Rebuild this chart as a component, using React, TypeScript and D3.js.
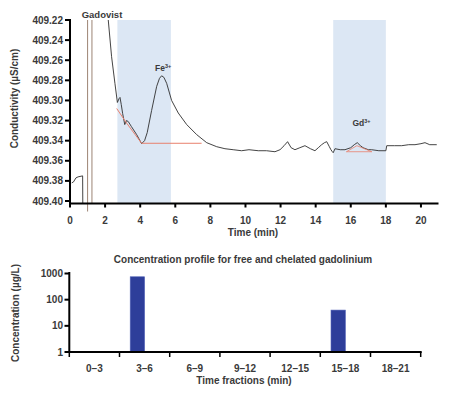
import React from 'react';
import * as d3 from 'd3';

// conductivity trace (NaN = gap where the signal leaves the plot)
const traceMinutes = [
  0.1, 0.2, 0.34, 0.46, 0.72, 0.73, NaN,
  2.15, 2.18, 2.37, 2.56, 2.7, 2.8, 2.85, 2.92, 3.0, 3.12, 3.22, 3.32, 3.5, 3.8, 4.08, 4.25, 4.4,
  4.65, 4.94, 5.1, 5.22, 5.35, 5.51, 5.79, 6.17, 6.65, 7.22, 7.79, 8.36, 8.83, 9.3, 9.78, 10.2,
  10.73, 11.2, 11.68, 11.97, 12.2, 12.4, 12.6, 12.82, 13.1, 13.39, 13.7, 13.96, 14.15, 14.34,
  14.5, 14.63, 14.78, 14.87, 14.95, 15.0, 15.1, 15.4, 15.67, 16.0, 16.2, 16.37, 16.55, 16.7,
  17.0, 17.19, 17.6, 18.0, 18.05, 18.5, 18.9, 19.3, 19.66, 20.0, 20.23, 20.5, 20.9,
];
const traceConductivity = [
  409.382, 409.381, 409.377, 409.376, 409.375, 409.405, NaN,
  409.215, 409.22, 409.2565, 409.283, 409.302, 409.298, 409.297, 409.304, 409.313, 409.324,
  409.32, 409.321, 409.326, 409.334, 409.343, 409.34, 409.332, 409.31, 409.286, 409.278,
  409.2755, 409.277, 409.283, 409.3, 409.3125, 409.324, 409.334, 409.342, 409.346, 409.348,
  409.349, 409.35, 409.349, 409.35, 409.35, 409.351, 409.349, 409.345, 409.341, 409.347,
  409.349, 409.347, 409.345, 409.348, 409.35, 409.347, 409.344, 409.342, 409.341, 409.346,
  409.349, 409.351, 409.352, 409.348, 409.349, 409.349, 409.347, 409.344, 409.342, 409.345,
  409.347, 409.349, 409.349, 409.35, 409.35, 409.345, 409.345, 409.345, 409.344, 409.344,
  409.343, 409.342, 409.344, 409.344,
];

// peak baselines (red)
const feBaselineMinutes = [2.66, 3.23, 4.08, 7.5];
const feBaselineValues = [409.308, 409.3226, 409.3426, 409.3426];
const gdBaselineMinutes = [15.75, 16.35, 17.2, 15.75];
const gdBaselineValues = [409.351, 409.345, 409.351, 409.351];

// shaded collection windows and injection marks
const windowStarts = [2.7, 15.0];
const windowEnds = [5.75, 18.0];
const injectionMinutes = [1.0, 1.25];

const yTicksTop = [409.22, 409.24, 409.26, 409.28, 409.3, 409.32, 409.34, 409.36, 409.38, 409.4];
const xTicksTop = [0, 2, 4, 6, 8, 10, 12, 14, 16, 18, 20];

// concentration per fraction
const fractions = ['0–3', '3–6', '6–9', '9–12', '12–15', '15–18', '18–21'];
const concentrations = [0, 750, 0, 0, 0, 40, 0];
const concTicks = [1, 10, 100, 1000];

const font = 'Liberation Sans, Arial, sans-serif';
const textColor = '#3a3a3a';

export default function App() {
  // top panel scales
  const x = d3.scaleLinear().domain([0, 21]).range([70, 438.5]);
  const y = d3.scaleLinear().domain([409.22, 409.4]).range([20, 201]);
  const axisY = 203.5;

  const tracePts = traceMinutes.map((t, i) => [t, traceConductivity[i]] as [number, number]);
  const line = d3
    .line<[number, number]>()
    .defined(d => !isNaN(d[0]) && !isNaN(d[1]))
    .x(d => x(d[0]))
    .y(d => y(d[1]));

  const feLine = line(feBaselineMinutes.map((t, i) => [t, feBaselineValues[i]] as [number, number]));
  const gdLine = line(gdBaselineMinutes.map((t, i) => [t, gdBaselineValues[i]] as [number, number]));

  // bottom panel scales
  const xb = d3.scaleBand<string>().domain(fractions).range([69.3, 420.7]).padding(0);
  const sub = d3
    .scaleBand<string>()
    .domain(['measured', 'other'])
    .range([0, xb.bandwidth()])
    .paddingInner(0)
    .paddingOuter(0.743);
  const yb = d3.scaleLog().domain([1, 1000]).range([352, 273.5]);
  const axisYb = 352;

  return (
    <svg width={450} height={399} style={{ position: 'absolute', left: 0, top: 0, background: '#fff' }} fontFamily={font}>
      <defs>
        <clipPath id="plotClip">
          <rect x={x(0)} y={y(409.22)} width={x(21) - x(0)} height={axisY - y(409.22)} />
        </clipPath>
      </defs>

      {/* shaded windows */}
      {windowStarts.map((s, i) => (
        <rect key={i} x={x(s)} y={y(409.22)} width={x(windowEnds[i]) - x(s)} height={axisY - y(409.22)} fill="#dce7f4" />
      ))}

      {/* injection marks */}
      {injectionMinutes.map((t, i) => (
        <line key={i} x1={x(t)} x2={x(t)} y1={y(409.22)} y2={i === 0 ? axisY + 8 : axisY} stroke="#a58f80" strokeWidth={1.1} />
      ))}

      <g clipPath="url(#plotClip)">
        <path d={line(tracePts) || ''} fill="none" stroke="#2f2f2f" strokeWidth={0.9} />
      </g>
      <path d={feLine || ''} fill="none" stroke="#e8806c" strokeWidth={1} />
      <path d={gdLine || ''} fill="none" stroke="#e8806c" strokeWidth={0.8} />

      {/* annotations */}
      <text x={102} y={17.5} textAnchor="middle" fontSize={9.5} fontWeight="bold" fill={textColor}>Gadovist</text>
      <text x={155} y={71} fontSize={8.5} fontWeight="bold" fill={textColor}>
        Fe<tspan fontSize={5.5} dy={-3}>3+</tspan>
      </text>
      <text x={352.5} y={126} fontSize={8.5} fontWeight="bold" fill={textColor}>
        Gd<tspan fontSize={5.5} dy={-3}>3+</tspan>
      </text>

      {/* top axes */}
      <line x1={70} x2={70} y1={19} y2={axisY + 1} stroke="#000" strokeWidth={2} />
      <line x1={69} x2={x(21)} y1={axisY} y2={axisY} stroke="#000" strokeWidth={2} />
      {yTicksTop.map(v => (
        <g key={v}>
          <line x1={65} x2={70} y1={y(v)} y2={y(v)} stroke="#000" strokeWidth={2} />
          <text x={63} y={y(v)} dy="0.35em" textAnchor="end" fontSize={10} fontWeight="bold" fill={textColor}>
            {d3.format('.2f')(v)}
          </text>
        </g>
      ))}
      {xTicksTop.map(t => (
        <g key={t}>
          <line x1={x(t)} x2={x(t)} y1={axisY} y2={axisY + 4} stroke="#000" strokeWidth={2} />
          <text x={x(t)} y={223.5} textAnchor="middle" fontSize={10} fontWeight="bold" fill={textColor}>{t}</text>
        </g>
      ))}
      <text x={253} y={236} textAnchor="middle" fontSize={10} fontWeight="bold" fill={textColor}>Time (min)</text>
      <text transform="translate(17.5,98.5) rotate(-90)" textAnchor="middle" fontSize={10} fontWeight="bold" fill={textColor}>
        Conductivity (µS/cm)
      </text>

      {/* bottom panel */}
      <text x={243} y={263} textAnchor="middle" fontSize={10} fontWeight="bold" fill={textColor}>
        Concentration profile for free and chelated gadolinium
      </text>
      {fractions.map((f, i) =>
        concentrations[i] > 1 ? (
          <rect
            key={f}
            x={(xb(f) as number) + (sub('measured') as number)}
            y={yb(concentrations[i])}
            width={sub.bandwidth()}
            height={axisYb - yb(concentrations[i])}
            fill="#2e3e9a"
            stroke="#5464b8"
            strokeWidth={0.6}
          />
        ) : null
      )}
      <line x1={69.3} x2={69.3} y1={272} y2={axisYb + 1} stroke="#000" strokeWidth={2} />
      <line x1={68.3} x2={421.7} y1={axisYb} y2={axisYb} stroke="#000" strokeWidth={2} />
      {concTicks.map(v => (
        <g key={v}>
          <line x1={64.5} x2={69.3} y1={yb(v)} y2={yb(v)} stroke="#000" strokeWidth={2} />
          <text x={63} y={yb(v)} dy="0.35em" textAnchor="end" fontSize={10} fontWeight="bold" fill={textColor}>{v}</text>
        </g>
      ))}
      {fractions.concat(['end']).map((f, i) => {
        const bx = i < fractions.length ? (xb(f) as number) : xb.range()[1];
        return <line key={'t' + i} x1={bx} x2={bx} y1={axisYb} y2={axisYb + 5} stroke="#000" strokeWidth={1.5} />;
      })}
      {fractions.map(f => (
        <text key={'l' + f} x={(xb(f) as number) + xb.bandwidth() / 2} y={372} textAnchor="middle" fontSize={10} fontWeight="bold" fill={textColor}>
          {f}
        </text>
      ))}
      <text x={244} y={384} textAnchor="middle" fontSize={10} fontWeight="bold" fill={textColor}>Time fractions (min)</text>
      <text transform="translate(18.5,313) rotate(-90)" textAnchor="middle" fontSize={10} fontWeight="bold" fill={textColor}>
        Concentration (µg/L)
      </text>
    </svg>
  );
}
